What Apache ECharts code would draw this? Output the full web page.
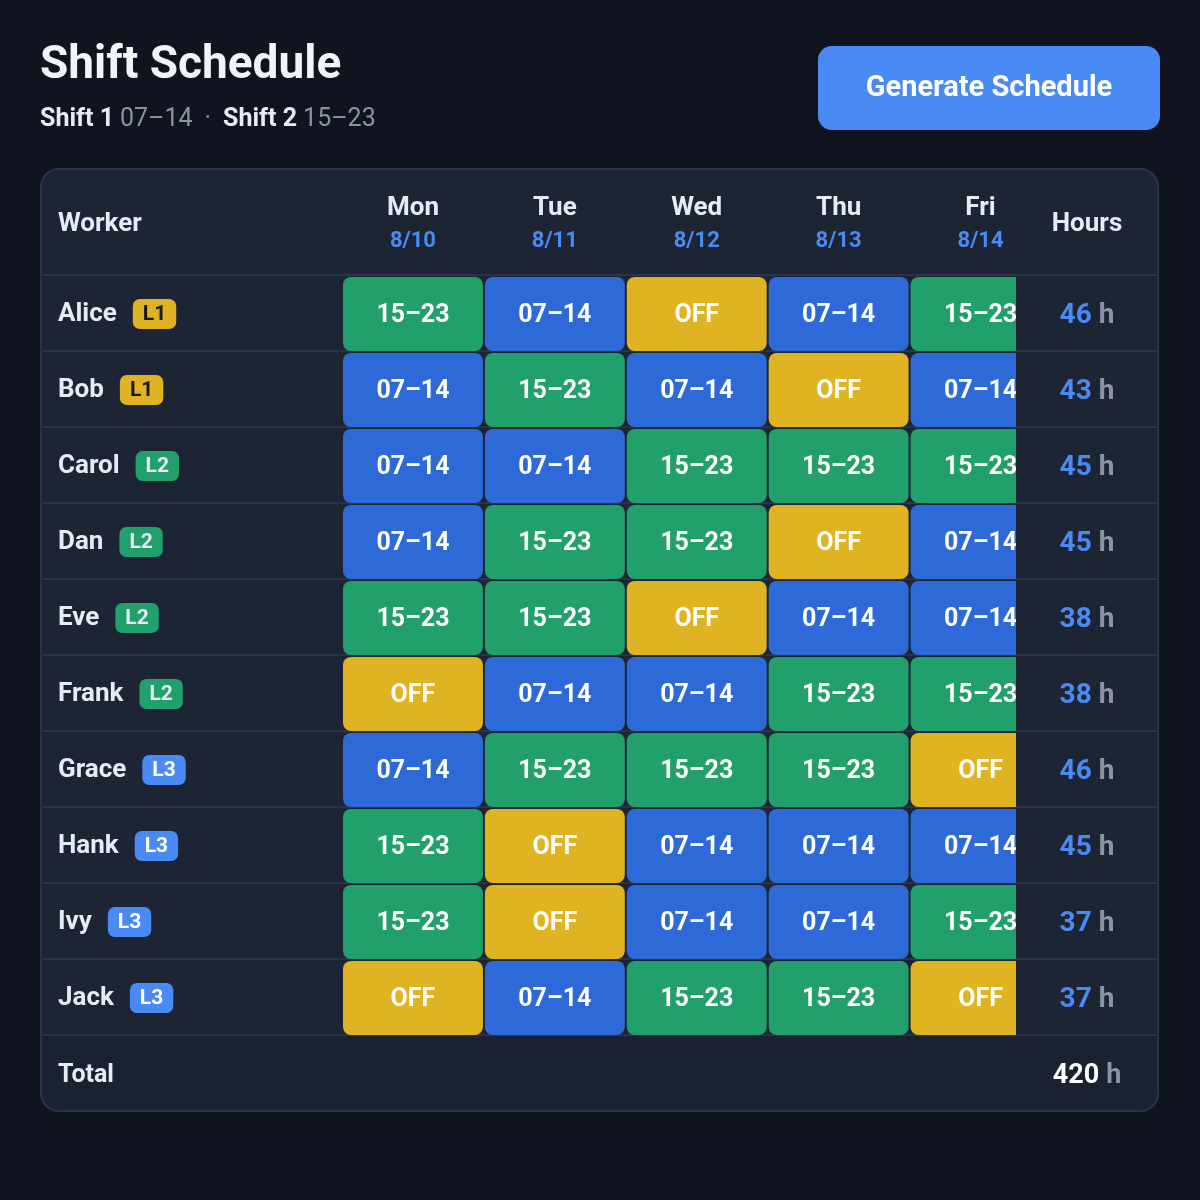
<!DOCTYPE html>
<html>
<head>
<meta charset="utf-8">
<script src="https://cdn.jsdelivr.net/npm/echarts@6/dist/echarts.min.js"></script>
<style>
  html, body { margin: 0; background: #0f141f; }
  #chart { width: 1200px; height: 1200px; }
</style>
</head>
<body>
<div id="chart"></div>
<script>
const days = ['Mon', 'Tue', 'Wed', 'Thu', 'Fri']
const dates = ['8/10', '8/11', '8/12', '8/13', '8/14']
const workers = ['Alice', 'Bob', 'Carol', 'Dan', 'Eve', 'Frank', 'Grace', 'Hank', 'Ivy', 'Jack']
const levels = ['L1', 'L1', 'L2', 'L2', 'L2', 'L2', 'L3', 'L3', 'L3', 'L3']
const hours = [46, 43, 45, 45, 38, 38, 46, 45, 37, 37]
const shifts = [
  ['15–23', '07–14', 'OFF', '07–14', '15–23'],
  ['07–14', '15–23', '07–14', 'OFF', '07–14'],
  ['07–14', '07–14', '15–23', '15–23', '15–23'],
  ['07–14', '15–23', '15–23', 'OFF', '07–14'],
  ['15–23', '15–23', 'OFF', '07–14', '07–14'],
  ['OFF', '07–14', '07–14', '15–23', '15–23'],
  ['07–14', '15–23', '15–23', '15–23', 'OFF'],
  ['15–23', 'OFF', '07–14', '07–14', '07–14'],
  ['15–23', 'OFF', '07–14', '07–14', '15–23'],
  ['OFF', '07–14', '15–23', '15–23', 'OFF']
]

const shiftColor = { '07–14': '#2d6ad8', '15–23': '#22a06b', 'OFF': '#e0b323' }
const font = 'Roboto, "Noto Sans", sans-serif'

// day d sits at x = d + 0.5 on a value axis starting at 0
const cells = []
shifts.forEach((row, w) => row.forEach((s, d) => cells.push([d + 0.5, w, s])))
const total = hours.reduce((a, b) => a + b, 0)

const rowTop = 276
const rowH = 76
const lines = []
for (let i = 0; i <= workers.length; i++) {
  lines.push({
    type: 'rect', silent: true,
    shape: { x: 42, y: rowTop - 2 + i * rowH, width: 1115, height: 2 },
    style: { fill: '#2a3448' }, z: 5
  })
}

const badge = (bg, fg) => ({
  color: fg, backgroundColor: bg, fontSize: 21, fontWeight: 'bold', fontFamily: font,
  padding: [5, 10, 4, 10], borderRadius: 7
})

const chart = echarts.init(document.getElementById('chart'))
chart.setOption({
  backgroundColor: '#0f141f',
  textStyle: { fontFamily: font },
  grid: { left: 342, top: rowTop, width: 674, height: rowH * workers.length },
  xAxis: {
    type: 'value', position: 'top', min: 0, max: 4.75, interval: 0.5,
    axisLine: { show: false }, axisTick: { show: false }, splitLine: { show: false },
    axisLabel: {
      margin: 19, showMaxLabel: true, showMinLabel: true,
      formatter: v => {
        const d = Math.round(v - 0.5)
        if (Math.abs(v - 0.5 - d) > 0.01 || d < 0 || d > 4) return ''
        return '{d|' + days[d] + '}\n{t|' + dates[d] + '}'
      },
      rich: {
        d: { color: '#e6ebf5', fontSize: 26, fontWeight: 'bold', fontFamily: font, lineHeight: 34 },
        t: { color: '#4a8af4', fontSize: 22, fontWeight: 'bold', fontFamily: font, lineHeight: 32 }
      }
    }
  },
  yAxis: [{
    type: 'category', inverse: true, data: workers,
    axisLine: { show: false }, axisTick: { show: false },
    axisLabel: {
      align: 'left', margin: 284,
      formatter: (v, i) => '{n|' + v + '}{' + levels[i] + '|' + levels[i] + '}',
      rich: {
        n: { color: '#e6ebf5', fontSize: 26, fontWeight: 'bold', fontFamily: font, padding: [0, 16, 0, 0] },
        L1: badge('#e0b323', '#1a1a1a'),
        L2: badge('#22a06b', '#e6ebf5'),
        L3: badge('#4a8af4', '#ffffff')
      }
    }
  }, {
    type: 'category', inverse: true, position: 'right', data: hours,
    axisLine: { show: false }, axisTick: { show: false },
    axisLabel: {
      align: 'center', margin: 71,
      formatter: v => '{v|' + v + '}{h|h}',
      rich: {
        v: { color: '#4a8af4', fontSize: 28, fontWeight: 'bold', fontFamily: font, padding: [4, 7, 0, 0] },
        h: { color: '#8a93a6', fontSize: 28, fontWeight: 'bold', fontFamily: font, padding: [4, 0, 0, 0] }
      }
    }
  }],
  series: [{
    type: 'custom', clip: true, z: 10,
    data: cells,
    renderItem: (params, api) => {
      const c = api.coord([api.value(0), api.value(1)])
      const sz = api.size([1, 1])
      const s = cells[params.dataIndex][2]
      return {
        type: 'rect',
        shape: { x: c[0] - sz[0] / 2 + 1, y: c[1] - sz[1] / 2 + 1, width: sz[0] - 2, height: sz[1] - 2, r: 8 },
        style: { fill: shiftColor[s] },
        textContent: {
          style: { text: s, fill: '#ffffff', fontSize: 25, fontWeight: 'bold', fontFamily: font }
        },
        textConfig: { position: 'inside', offset: [0, 2] }
      }
    }
  }],
  graphic: [
    { type: 'rect', z: -10, silent: true, shape: { x: 41, y: 169, width: 1117, height: 942, r: 18 },
      style: { fill: '#1d2535', stroke: '#2a3448', lineWidth: 2 } },
    { type: 'rect', z: -9, silent: true, shape: { x: 42, y: 1036, width: 1115, height: 74, r: [0, 0, 17, 17] },
      style: { fill: '#1a2131' } },
    ...lines,
    { type: 'text', style: { x: 58, y: 224, text: 'Worker', fill: '#e6ebf5', fontSize: 26, fontWeight: 'bold', fontFamily: font, verticalAlign: 'middle' } },
    { type: 'text', style: { x: 1087, y: 224, text: 'Hours', fill: '#e6ebf5', fontSize: 26, fontWeight: 'bold', fontFamily: font, align: 'center', verticalAlign: 'middle' } },
    { type: 'text', style: { x: 40, y: 66, text: 'Shift Schedule', fill: '#f0f3f8', fontSize: 46, fontWeight: 'bold', fontFamily: font, verticalAlign: 'middle' } },
    { type: 'text', style: { x: 40, y: 120, verticalAlign: 'middle',
      text: '{b|Shift 1}{g|07–14}{d|·}{b|Shift 2}{g|15–23}',
      rich: {
        b: { fill: '#e6ebf5', fontSize: 25, fontWeight: 'bold', fontFamily: font, padding: [0, 6, 0, 0] },
        g: { fill: '#8a93a6', fontSize: 25, fontFamily: font },
        d: { fill: '#8a93a6', fontSize: 25, fontFamily: font, padding: [0, 12, 0, 12] }
      } } },
    { type: 'rect', shape: { x: 818, y: 46, width: 342, height: 84, r: 14 }, style: { fill: '#4a8af4' } },
    { type: 'text', style: { x: 989, y: 89, text: 'Generate Schedule', fill: '#ffffff', fontSize: 29, fontWeight: 'bold', fontFamily: font, align: 'center', verticalAlign: 'middle' } },
    { type: 'text', style: { x: 58, y: 1076, text: 'Total', fill: '#e6ebf5', fontSize: 25, fontWeight: 'bold', fontFamily: font, verticalAlign: 'middle' } },
    { type: 'text', style: { x: 1087, y: 1076, align: 'center', verticalAlign: 'middle',
      text: '{v|' + total + '}{h|h}',
      rich: {
        v: { fill: '#ffffff', fontSize: 27, fontWeight: 'bold', fontFamily: font, padding: [0, 7, 0, 0] },
        h: { fill: '#8a93a6', fontSize: 27, fontWeight: 'bold', fontFamily: font }
      } } }
  ]
})
</script>
</body>
</html>
